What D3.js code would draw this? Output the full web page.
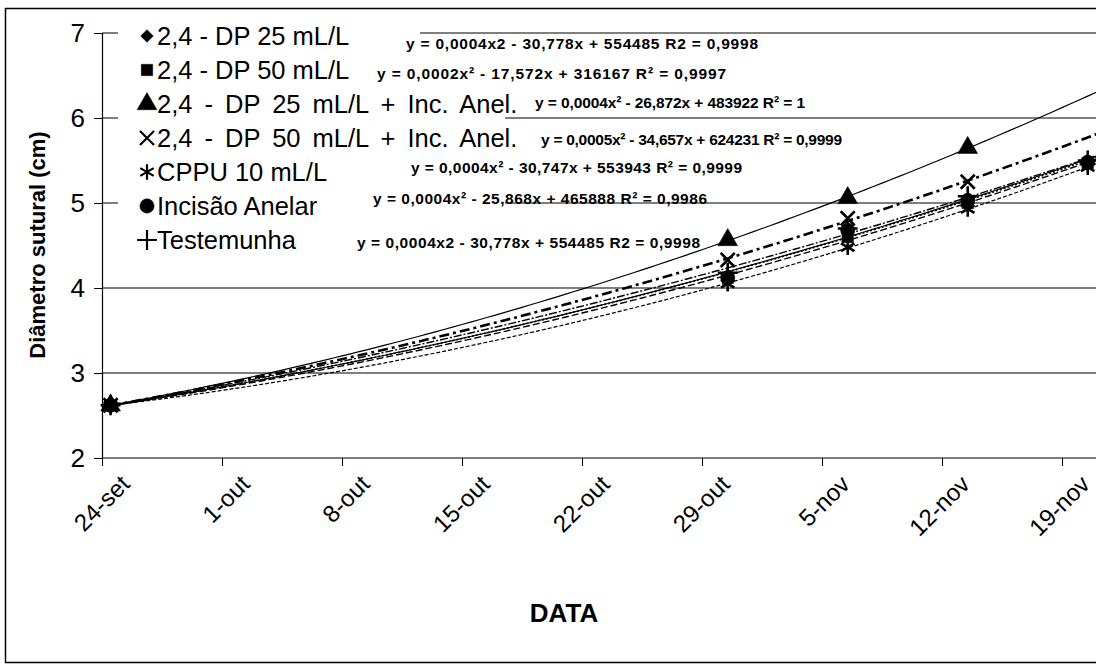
<!DOCTYPE html>
<html>
<head>
<meta charset="utf-8">
<script src="https://cdn.jsdelivr.net/npm/d3@7"></script>
<style>
  body { margin: 0; background: #fff; }
  svg { display: block; font-family: Arial, "Liberation Sans", sans-serif; }
</style>
</head>
<body>
<svg id="chart" width="1096" height="665"></svg>
<script>
// dates of the measurements (day-month, year is not shown)
const dates = ["24-set", "30-out", "6-nov", "13-nov", "20-nov"];
const tickLabels = ["24-set", "1-out", "8-out", "15-out", "22-out", "29-out", "5-nov", "12-nov", "19-nov"];
const yTicks = [2, 3, 4, 5, 6, 7];

const seriesNames = [
  "2,4 - DP 25 mL/L",
  "2,4 - DP 50 mL/L",
  "2,4 - DP 25 mL/L + Inc. Anel.",
  "2,4 - DP 50 mL/L + Inc. Anel.",
  "CPPU 10 mL/L",
  "Incisão Anelar",
  "Testemunha"
];

// diametro sutural (cm)
const dp25 = [2.62, 4.15, 4.65, 5.05, 5.50];
const dp50 = [2.62, 4.12, 4.60, 5.00, 5.47];
const dp25inc = [2.62, 4.565, 5.06, 5.65];
const dp50inc = [2.62, 4.33, 4.82, 5.25];
const cppu = [2.62, 4.05, 4.48, 4.93, 5.42];
const incisao = [2.62, 4.12, 4.68, 5.03, 5.48];
const testemunha = [2.62, 4.18, 4.70, 5.08, 5.50];

const equations = [
  "y = 0,0004x2 - 30,778x + 554485  R2 = 0,9998",
  "y = 0,0002x² - 17,572x + 316167  R² = 0,9997",
  "y = 0,0004x² - 26,872x + 483922  R² = 1",
  "y = 0,0005x² - 34,657x + 624231  R² = 0,9999",
  "y = 0,0004x² - 30,747x + 553943  R² = 0,9999",
  "y = 0,0004x² - 25,868x + 465888  R² = 0,9986",
  "y = 0,0004x2 - 30,778x + 554485  R2 = 0,9998"
];

const allValues = [dp25, dp50, dp25inc, dp50inc, cppu, incisao, testemunha];

const svg = d3.select("#chart");
const W = 1096, H = 665;

const parse = d3.timeParse("%d-%m-%Y");
const monthNum = {set: "09", out: "10", nov: "11"};
function toDate(s) {
  const [d, m] = s.split("-");
  return parse(d + "-" + monthNum[m] + "-2005");
}
const day = 24 * 3600 * 1000;
const t0 = toDate("24-set");

// outer frame
svg.append("rect")
  .attr("x", 5.5).attr("y", 8.5)
  .attr("width", 1200).attr("height", 654)
  .attr("fill", "none").attr("stroke", "#000").attr("stroke-width", 1.5);

const x = d3.scaleTime()
  .domain([t0, new Date(+t0 + 56 * day)])
  .range([102, 1062]);
const y = d3.scaleLinear().domain([2, 7]).range([458, 33]);

// gridlines
svg.append("g").selectAll("line")
  .data(yTicks.filter(v => v > 2))
  .join("line")
  .attr("x1", 102).attr("x2", W)
  .attr("y1", d => y(d)).attr("y2", d => y(d))
  .attr("stroke", "#000").attr("stroke-width", 1.2);

// axes
const yAxis = svg.append("g").attr("transform", "translate(102,0)")
  .call(d3.axisLeft(y).tickValues(yTicks).tickSize(8).tickPadding(9).tickFormat(d3.format("d")));
yAxis.select(".domain").attr("stroke-width", 1.2);
yAxis.selectAll("text").attr("font-size", 26).attr("fill", "#000");

const xAxis = svg.append("g").attr("transform", "translate(0,458)")
  .call(d3.axisBottom(x)
    .tickValues(tickLabels.map(toDate))
    .tickSize(8)
    .tickFormat((d, i) => tickLabels[i]));
xAxis.select(".domain").attr("d", "M102,0H" + W).attr("stroke-width", 1.2);
xAxis.selectAll("text")
  .attr("font-size", 24).attr("fill", "#000")
  .attr("text-anchor", "end")
  .attr("transform", "translate(9,8) rotate(-45)")
  .attr("dy", "0.7em");

// axis titles
svg.append("text")
  .attr("transform", "translate(45,245) rotate(-90)")
  .attr("text-anchor", "middle")
  .attr("font-size", 22).attr("font-weight", "bold")
  .text("Diâmetro sutural (cm)");
svg.append("text")
  .attr("x", 564).attr("y", 622)
  .attr("text-anchor", "middle")
  .attr("font-size", 26).attr("font-weight", "bold")
  .text("DATA");

// legend box (white, hides the gridlines behind it)
svg.append("rect")
  .attr("x", 118).attr("y", 20).attr("width", 302).attr("height", 236)
  .attr("fill", "#fff");
svg.append("rect")
  .attr("x", 118).attr("y", 38).attr("width", 387).attr("height", 218)
  .attr("fill", "#fff");

// quadratic least squares fit on (day, value)
function quadFit(xs, ys) {
  let s = [0, 0, 0, 0, 0], t = [0, 0, 0];
  xs.forEach((xv, i) => {
    for (let k = 0; k < 5; k++) s[k] += Math.pow(xv, k);
    for (let k = 0; k < 3; k++) t[k] += ys[i] * Math.pow(xv, k);
  });
  const A = [[s[0], s[1], s[2], t[0]], [s[1], s[2], s[3], t[1]], [s[2], s[3], s[4], t[2]]];
  for (let i = 0; i < 3; i++) {
    for (let j = i + 1; j < 3; j++) {
      const f = A[j][i] / A[i][i];
      for (let k = i; k < 4; k++) A[j][k] -= f * A[i][k];
    }
  }
  const c = [0, 0, 0];
  for (let i = 2; i >= 0; i--) {
    let v = A[i][3];
    for (let k = i + 1; k < 3; k++) v -= A[i][k] * c[k];
    c[i] = v / A[i][i];
  }
  return xv => c[0] + c[1] * xv + c[2] * xv * xv;
}

const lineStyles = [
  {dash: null, w: 1.2},
  {dash: "7,3", w: 1.4},
  {dash: null, w: 1.2},
  {dash: "10,4,3,4", w: 2.6},
  {dash: "4,2", w: 1.2},
  {dash: "2,2", w: 1.6},
  {dash: "8,2,2,2", w: 1.4}
];
// diamond = square turned 45 degrees (rot)
const symbols = [
  {type: d3.symbolSquare, size: 80, fill: true, rot: 45},
  {type: d3.symbolSquare, size: 130, fill: true, rot: 0},
  {type: d3.symbolTriangle, size: 170, fill: true, rot: 0},
  {type: d3.symbolTimes, size: 130, fill: false, rot: 0},
  {type: d3.symbolAsterisk, size: 170, fill: false, rot: 0},
  {type: d3.symbolCircle, size: 160, fill: true, rot: 0},
  {type: d3.symbolPlus, size: 130, fill: false, rot: 0}
];

const px = (dStr) => x(new Date(+toDate(dStr) + 0.5 * day));
const dayOf = (dStr) => (toDate(dStr) - t0) / day + 0.5;

// trend lines
const line = d3.line().x(d => d[0]).y(d => d[1]);
allValues.forEach((vals, si) => {
  const xs = vals.map((v, i) => dayOf(dates[i]));
  const f = quadFit(xs, vals);
  const pts = d3.range(0.5, 58.01, 0.5).map(dd => [x(new Date(+t0 + dd * day)), y(f(dd))]);
  svg.append("path")
    .attr("d", line(pts))
    .attr("fill", "none").attr("stroke", "#000")
    .attr("stroke-width", lineStyles[si].w)
    .attr("stroke-dasharray", lineStyles[si].dash);
});

// markers
allValues.forEach((vals, si) => {
  const sym = symbols[si];
  svg.append("g").selectAll("path")
    .data(vals)
    .join("path")
    .attr("transform", (d, i) => `translate(${px(dates[i])},${y(d)}) rotate(${sym.rot})`)
    .attr("d", d3.symbol(sym.type, sym.size))
    .attr("fill", sym.fill ? "#000" : "none")
    .attr("stroke", "#000")
    .attr("stroke-width", sym.fill ? 0.5 : 2.6);
});

// legend entries
const legRowY = d3.range(7).map(i => 36 + i * 34);
const leg = svg.append("g");
seriesNames.forEach((name, i) => {
  const sym = symbols[i];
  leg.append("path")
    .attr("transform", `translate(147,${legRowY[i]}) rotate(${sym.rot})`)
    .attr("d", d3.symbol(sym.type, sym.size))
    .attr("fill", sym.fill ? "#000" : "none")
    .attr("stroke", "#000").attr("stroke-width", sym.fill ? 0.5 : 2.2);
  leg.append("text")
    .attr("x", 157).attr("y", legRowY[i]).attr("dy", "0.36em")
    .attr("font-size", 25.5)
    .attr("word-spacing", name.includes("Inc.") ? 5 : 0)
    .text(name);
});

// trendline equations: left x, centre y, width
const eqPos = [[406, 43, 352], [377, 73, 349], [535, 102, 270], [541, 139, 301], [411, 167, 331], [373, 198, 334], [357, 242, 343]];
svg.append("g").selectAll("text")
  .data(equations)
  .join("text")
  .attr("x", (d, i) => eqPos[i][0]).attr("y", (d, i) => eqPos[i][1])
  .attr("dy", "0.36em")
  .attr("font-size", 15.5).attr("font-weight", "bold")
  .attr("textLength", (d, i) => eqPos[i][2])
  .attr("lengthAdjust", "spacing")
  .text(d => d);
</script>
</body>
</html>
